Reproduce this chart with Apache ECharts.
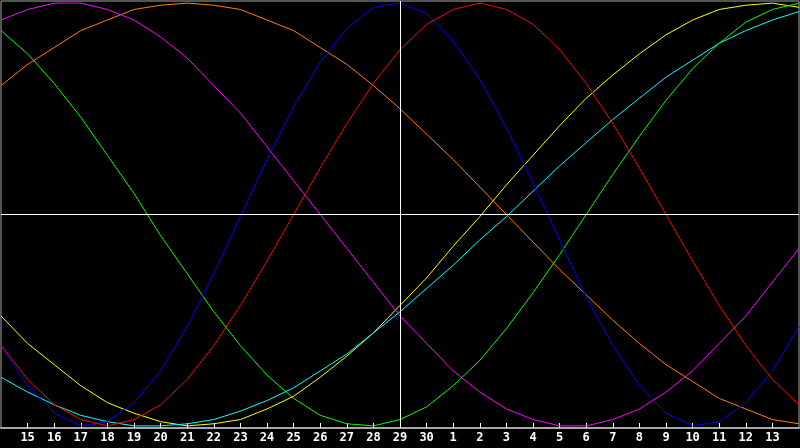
<!DOCTYPE html>
<html>
<head>
<meta charset="utf-8">
<script src="https://cdn.jsdelivr.net/npm/echarts@6/dist/echarts.min.js"></script>
<style>
html,body{margin:0;padding:0;background:#000;}
#chart{width:800px;height:448px;}
</style>
</head>
<body>
<div id="chart"></div>
<script>
// Day labels: position 0 = day 14, position 30 = day 14 of next month
const dayLabels = ['14','15','16','17','18','19','20','21','22','23','24','25','26','27','28','29','30',
  '1','2','3','4','5','6','7','8','9','10','11','12','13','14'];
const todayIndex = 15; // day 29

const red = [-62,-78,-90,-97,-100,-97,-90,-78,-62,-43,-22,0,22,43,62,78,90,97,100,97,90,78,62,43,22,0,-22,-43,-62,-78,-90];
const blue = [-62,-81,-94,-100,-98,-89,-74,-53,-28,-1,26,51,72,88,98,100,95,82,64,41,15,-12,-39,-62,-81,-94,-100,-98,-89,-74,-53];
const green = [87,76,62,46,28,10,-10,-28,-46,-62,-76,-87,-95,-99,-100,-97,-91,-81,-69,-54,-37,-19,0,19,37,54,69,81,91,97,100];
const magenta = [92,97,100,100,97,92,84,74,61,48,32,16,0,-16,-32,-48,-61,-74,-84,-92,-97,-100,-100,-97,-92,-84,-74,-61,-48,-32,-16];
const orange = [61,71,79,87,92,97,99,100,99,97,92,87,79,71,61,50,38,26,13,0,-13,-26,-38,-50,-61,-71,-79,-87,-92,-97,-99];
const yellow = [-48,-61,-71,-81,-89,-94,-98,-100,-99,-97,-92,-86,-77,-67,-56,-43,-30,-15,-1,14,28,42,55,66,76,85,92,97,99,100,98];
const cyan = [-77,-84,-90,-95,-98,-100,-100,-99,-97,-93,-88,-82,-74,-66,-56,-46,-35,-24,-12,-1,11,23,34,45,55,65,73,81,87,92,96];

const seriesDefs = [
  {name:'yellow', color:'#ffff00', values: yellow},
  {name:'cyan', color:'#00ffff', values: cyan},
  {name:'orange', color:'#ff8000', values: orange},
  {name:'magenta', color:'#ff00ff', values: magenta},
  {name:'green', color:'#00ff00', values: green},
  {name:'blue', color:'#0000ff', values: blue},
  {name:'red', color:'#ff0000', values: red}
];

const chart = echarts.init(document.getElementById('chart'), null, {renderer:'canvas'});

const series = seriesDefs.map(function(s){
  return {
    name: s.name,
    type: 'line',
    data: s.values.map(function(v,i){ return [i, v]; }),
    showSymbol: false,
    symbol: 'none',
    lineStyle: {color: s.color, width: 1},
    itemStyle: {color: s.color},
    z: 3
  };
});

series.unshift({
  type: 'line',
  data: [],
  silent: true,
  z: 2,
  markLine: {
    silent: true,
    symbol: ['none','none'],
    label: {show: false},
    lineStyle: {color: '#ffffff', width: 1, type: 'solid'},
    data: [ {xAxis: todayIndex}, {yAxis: 0} ]
  }
});

chart.setOption({
  animation: false,
  backgroundColor: '#000000',
  grid: {
    left: 1, right: 1, top: 1, bottom: 20,
    show: true,
    borderColor: '#a8a8a8',
    borderWidth: 1,
    backgroundColor: '#000000'
  },
  xAxis: {
    type: 'value',
    min: 0,
    max: 30,
    interval: 1,
    splitLine: {show: false},
    axisLine: {show: true, onZero: false, lineStyle: {color: '#a8a8a8', width: 2}},
    axisTick: {show: true, inside: true, length: 5, lineStyle: {color: '#ffffff', width: 1}},
    axisLabel: {
      show: true,
      color: '#ffffff',
      fontFamily: 'DejaVu Sans Mono',
      fontWeight: 'bold',
      fontSize: 12,
      margin: 4,
      showMinLabel: false,
      showMaxLabel: false,
      formatter: function(v){
        if (v <= 0 || v >= 30) return '';
        return dayLabels[Math.round(v)];
      }
    }
  },
  yAxis: {
    type: 'value',
    min: -101,
    max: 101,
    show: false,
    splitLine: {show: false}
  },
  series: series
});
</script>
</body>
</html>
